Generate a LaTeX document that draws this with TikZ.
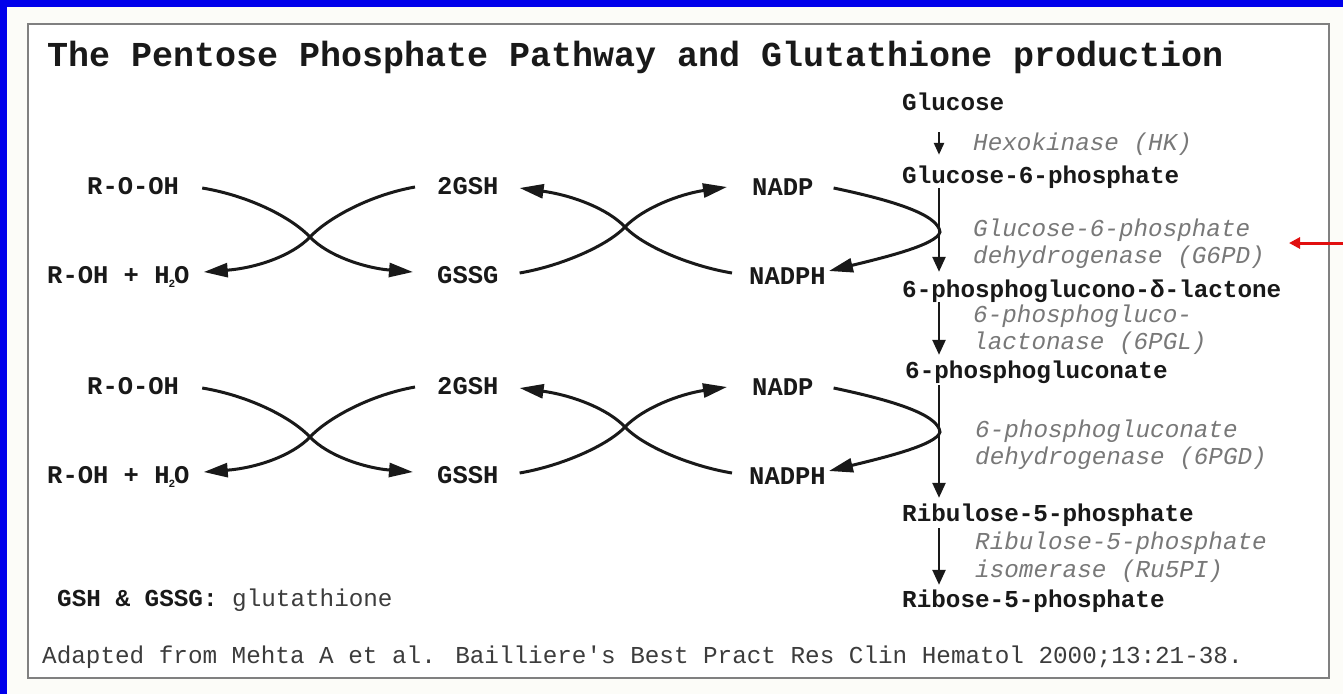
\documentclass[tikz,border=0pt]{standalone}
\usepackage{fontspec}
\usetikzlibrary{arrows.meta,calc}
\newfontfamily\cour{Liberation Mono}
\definecolor{bluebar}{RGB}{0,0,235}
\definecolor{bgc}{RGB}{252,252,248}
\definecolor{boxc}{RGB}{128,128,128}
\definecolor{labc}{RGB}{25,25,25}
\definecolor{enzc}{RGB}{120,120,120}
\definecolor{footc}{RGB}{60,60,60}
\definecolor{redarr}{RGB}{225,15,15}
\newcommand\lowsub[1]{\kern-1pt\raisebox{-4pt}{\fontsize{11}{11}\selectfont #1}\kern-1pt}
\tikzset{
  base/.style={inner sep=0pt, anchor=west, text height=13pt, text depth=0pt},
  titlestyle/.style={base, text height=19pt, text=labc, font=\cour\bfseries\fontsize{35pt}{40pt}\selectfont},
  lab/.style={base, text=labc, font=\cour\bfseries\fontsize{24.3pt}{27pt}\selectfont},
  cyc/.style={base, text=labc, font=\cour\bfseries\fontsize{25.5pt}{28pt}\selectfont},
  enz/.style={base, text=enzc, font=\cour\itshape\fontsize{24.3pt}{27pt}\selectfont},
  foot/.style={base, text=footc, font=\cour\fontsize{24.3pt}{27pt}\selectfont},
  carrow/.style={line width=3pt, labc, -{Triangle[length=24pt,width=14pt]}},
  varrow/.style={line width=2.5pt, labc, -{Triangle[length=15pt,width=13pt]}},
  sarrow/.style={line width=2.5pt, labc, -{Triangle[length=12pt,width=10pt]}},
  rarrow/.style={line width=3pt, redarr, -{Triangle[length=11pt,width=11pt]}}
}
\begin{document}
\begin{tikzpicture}[x=1pt,y=-1pt]
\useasboundingbox (0,0) rectangle (1343,694);
\fill[bgc] (0,0) rectangle (1343,694);
\fill[bluebar] (0,0) rectangle (1343,7);
\fill[bluebar] (0,0) rectangle (7,694);
\filldraw[fill=white, draw=boxc, line width=2.5pt] (28,24) rectangle (1329,678);

\node[titlestyle] (title) at (47,57) {The Pentose Phosphate Pathway and Glutathione production};

% main pathway
\coordinate (ax) at (939,0);
\node[lab] (glc)  at (902,104) {Glucose};
\node[lab] (g6p)  at (902,177) {Glucose-6-phosphate};
\node[lab] (pgl)  at (902,291) {6-phosphoglucono-δ-lactone};
\node[lab] (pg)   at (905,372) {6-phosphogluconate};
\node[lab] (ru5p) at (902,515) {Ribulose-5-phosphate};
\node[lab] (r5p)  at (902,601) {Ribose-5-phosphate};

\draw[sarrow] ($(glc.south -| ax)+(0,21.5)$) -- ($(g6p.north -| ax)+(0,-15.5)$);
\draw[varrow] ($(g6p.south -| ax)+(0,4.5)$) -- ($(pgl.north -| ax)+(0,-12.5)$);
\draw[varrow] ($(pgl.south -| ax)+(0,4.5)$) -- ($(pg.north -| ax)+(0,-10.5)$);
\draw[varrow] ($(pg.south -| ax)+(0,6.5)$) -- ($(ru5p.north -| ax)+(0,-10.5)$);
\draw[varrow] ($(ru5p.south -| ax)+(0,6.5)$) -- ($(r5p.north -| ax)+(0,-9.5)$);

\node[enz] (hk)  at (973,144) {Hexokinase (HK)};
\node[enz] (e1a) at (973,230) {Glucose-6-phosphate};
\node[enz] (e1b) at (973,257) {dehydrogenase (G6PD)};
\node[enz] (e2a) at (973,316) {6-phosphogluco-};
\node[enz] (e2b) at (973,343) {lactonase (6PGL)};
\node[enz] (e3a) at (975,431) {6-phosphogluconate};
\node[enz] (e3b) at (975,458) {dehydrogenase (6PGD)};
\node[enz] (e4a) at (975,543) {Ribulose-5-phosphate};
\node[enz] (e4b) at (975,571) {isomerase (Ru5PI)};

% glutathione cycles
\foreach \r/\dy/\ox in {1/0/GSSG,2/200/GSSH}{
  \node[cyc] (rooh\r)  at (87,{188+\dy}) {R-O-OH};
  \node[cyc] (h2o\r)   at (47,{277+\dy}) {R-OH + H\lowsub{2}O};
  \node[cyc] (gsh\r)   at (437,{188+\dy}) {2GSH};
  \node[cyc] (gssg\r)  at (437,{277+\dy}) {\ox};
  \node[cyc] (nadp\r)  at (752,{189+\dy}) {NADP};
  \node[cyc] (nadph\r) at (749,{278+\dy}) {NADPH};
  \coordinate (xa\r) at (310,{237+\dy});
  \coordinate (xb\r) at (625,{227+\dy});
  \coordinate (tv\r) at (940,{232+\dy});
  \draw[carrow] ([xshift=23pt]rooh\r.east) .. controls +(48,8) and +(-18,-19) .. (xa\r)
     .. controls +(18,19) and +(-48,-4) .. ([xshift=-24pt,yshift=5pt]gssg\r.west);
  \draw[carrow] ([xshift=-22pt,yshift=1pt]gsh\r.west) .. controls +(-45,8) and +(18,-19) .. (xa\r)
     .. controls +(-18,19) and +(52,-4) .. ([xshift=14pt,yshift=5pt]h2o\r.east);
  \draw[carrow] ([xshift=21pt,yshift=4pt]gssg\r.east) .. controls +(41,-7) and +(-18,19) .. (xb\r)
     .. controls +(18,-19) and +(-47,7) .. ([xshift=-25pt,yshift=2pt]nadp\r.west);
  \draw[carrow] ([xshift=-17pt,yshift=5pt]nadph\r.west) .. controls +(-42,-7) and +(18,19) .. (xb\r)
     .. controls +(-18,-19) and +(51,7) .. ([xshift=21pt]gsh\r.east);
  \draw[carrow] ([xshift=20pt,yshift=1pt]nadp\r.east) .. controls +(57,12) and +(-2,-18) .. (tv\r)
     .. controls +(-3,13) and +(53,-13) .. ([xshift=3pt,yshift=7pt]nadph\r.east);
}

% notes
\node[foot] (note) at (57,600) {{\color{labc}\bfseries GSH \& GSSG:}\ glutathione};
\node[foot] (ref) at (42,657) {Adapted from Mehta A et al. Bailliere's Best Pract Res Clin Hematol 2000;13:21-38.};

% red pointer
\coordinate (rtail) at (1343,243);
\coordinate (rtip) at (1289,243);
\draw[rarrow] (rtail) -- (rtip);
\end{tikzpicture}
\end{document}
